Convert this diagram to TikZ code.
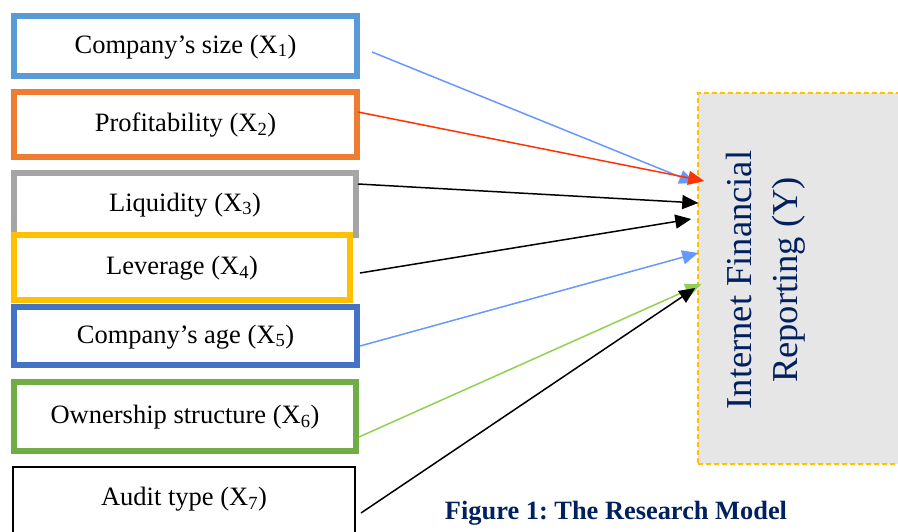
\documentclass[tikz,border=0pt]{standalone}
\usepackage{fontspec}
\setmainfont{Liberation Serif}
\usetikzlibrary{arrows.meta,positioning}
\definecolor{sizeblue}{HTML}{5B9BD5}
\definecolor{profitorange}{HTML}{ED7D31}
\definecolor{liqgray}{HTML}{A5A5A5}
\definecolor{levgold}{HTML}{FFC000}
\definecolor{ageblue}{HTML}{4472C4}
\definecolor{ownergreen}{HTML}{70AD47}
\definecolor{lightarrow}{HTML}{6699FF}
\definecolor{redarrow}{HTML}{FF3300}
\definecolor{greenarrow}{HTML}{92D050}
\definecolor{navy}{HTML}{002060}
\definecolor{boxgray}{HTML}{E6E6E6}

\begin{document}
\frenchspacing
\begin{tikzpicture}[x=1pt,y=-1pt,
    var/.style={draw,line width=6pt,inner sep=0pt,minimum width=343pt,text height=20pt,
        font=\fontsize{26.5}{32}\selectfont},
    link/.style={line width=1.5pt,-{Triangle[length=16pt,width=14pt]}}]
    \useasboundingbox (0,0) rectangle (898,532);

    % independent variables
    \node[var,draw=sizeblue,minimum height=60pt] (size) at (185.5,46) {Company’s size (X\textsubscript{1})};
    \node[var,draw=profitorange,minimum height=65pt] (profit) at (185.5,124.5) {Profitability (X\textsubscript{2})};
    \node[var,draw=liqgray,minimum width=342pt,minimum height=62pt] (liq) at (185,204) {Liquidity (X\textsubscript{3})};
    \node[var,draw=levgold,minimum width=336pt,minimum height=65pt] (lev) at (182,267.5) {Leverage (X\textsubscript{4})};
    \node[var,draw=ageblue,minimum height=58pt] (age) at (185.5,336) {Company’s age (X\textsubscript{5})};
    \node[var,draw=ownergreen,minimum width=342pt,minimum height=69pt] (owner) at (185,416.5) {Ownership structure (X\textsubscript{6})};
    \node[var,draw=black,line width=2pt,minimum width=342pt,minimum height=73pt,text depth=15.5pt] (audit) at (184,503.5) {Audit type (X\textsubscript{7})};

    % dependent variable
    \node[draw=levgold,fill=boxgray,dashed,dash pattern=on 5pt off 3pt,line width=1.5pt,
        minimum width=212pt,minimum height=371pt] (ifr) at (804,278.5) {};
    \node[rotate=90,align=center,text=navy,font=\fontsize{36.5}{46}\selectfont] (ifrtext) at (766,280)
        {Internet Financial\\Reporting (Y)};

    \draw[link,lightarrow] ([shift={(12,6)}]size.east) -- ([shift={(-2,-95.5)}]ifr.west);
    \draw[link,redarrow] ([shift={(-2,-12.5)}]profit.east) -- ([shift={(7,-97.5)}]ifr.west);
    \draw[link,black] ([shift={(-1,-20)}]liq.east) -- ([shift={(1,-75.5)}]ifr.west);
    \draw[link,black] ([shift={(7,5.5)}]lev.east) -- ([shift={(-6,-59.5)}]ifr.west);
    \draw[link,lightarrow] ([shift={(0,10)}]age.east) -- ([shift={(1,-25.5)}]ifr.west);
    \draw[link,greenarrow] ([shift={(0,20.5)}]owner.east) -- ([shift={(4,5.5)}]ifr.west);
    \draw[link,black] ([shift={(5,9.5)}]audit.east) -- ([shift={(-2,9.5)}]ifr.west);

    \node[text=navy,font=\fontsize{26.4}{32}\selectfont\bfseries] (caption) at (616,513) {Figure 1: The Research Model};
\end{tikzpicture}
\end{document}
